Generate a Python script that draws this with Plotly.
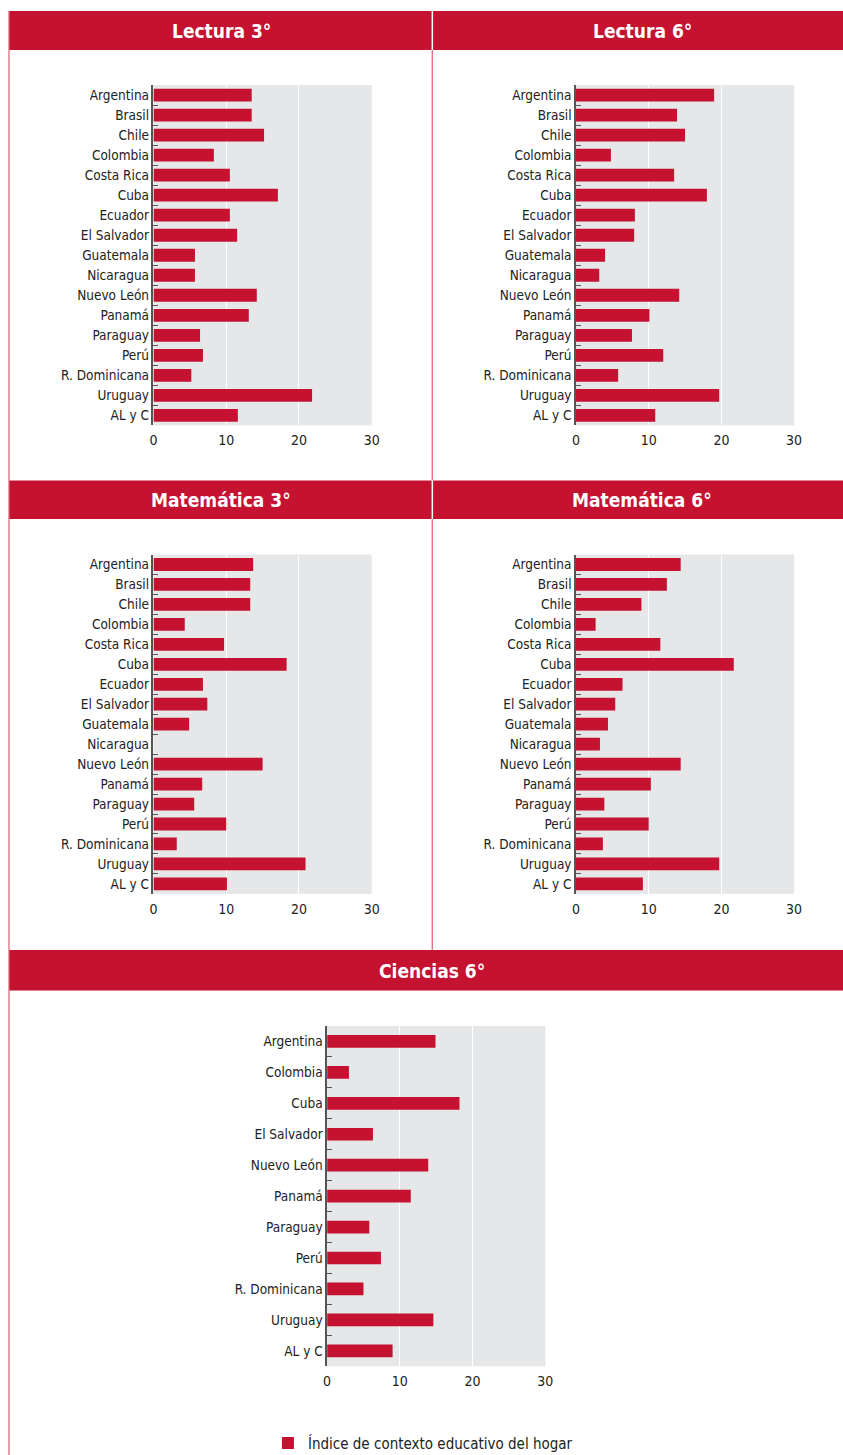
import plotly.graph_objects as go

# target picture size (reference pixel space)
W, H = 843, 1455
# figure size used to compensate the slight shrink seen in the photographed page
FW, FH = 851, 1460
SX, OX, SY = 0.988, 3.5, 0.997

paises = ["Argentina", "Brasil", "Chile", "Colombia", "Costa Rica", "Cuba", "Ecuador",
          "El Salvador", "Guatemala", "Nicaragua", "Nuevo León", "Panamá", "Paraguay",
          "Perú", "R. Dominicana", "Uruguay", "AL y C"]
lectura3 = [13.5, 13.5, 15.2, 8.3, 10.5, 17.1, 10.5, 11.5, 5.7, 5.7, 14.2, 13.1, 6.4, 6.8, 5.2, 21.8, 11.6]
lectura6 = [19.0, 13.9, 15.0, 4.8, 13.5, 18.0, 8.1, 8.0, 4.0, 3.2, 14.2, 10.1, 7.7, 12.0, 5.8, 19.7, 10.9]
matematica3 = [13.7, 13.3, 13.3, 4.3, 9.7, 18.3, 6.8, 7.4, 4.9, None, 15.0, 6.7, 5.6, 10.0, 3.2, 20.9, 10.1]
matematica6 = [14.4, 12.5, 9.0, 2.7, 11.6, 21.7, 6.4, 5.4, 4.4, 3.3, 14.4, 10.3, 3.9, 10.0, 3.7, 19.7, 9.2]

paises_ciencias = ["Argentina", "Colombia", "Cuba", "El Salvador", "Nuevo León", "Panamá",
                   "Paraguay", "Perú", "R. Dominicana", "Uruguay", "AL y C"]
ciencias6 = [14.9, 3.0, 18.2, 6.3, 13.9, 11.5, 5.8, 7.4, 5.0, 14.6, 9.0]

titulos = ["Lectura 3°", "Lectura 6°", "Matemática 3°", "Matemática 6°", "Ciencias 6°"]
x_ticks = [0, 10, 20, 30]
serie = "Índice de contexto educativo del hogar"

RED = "#c41230"
LINE = "#e06a7e"
FONT = "Liberation Sans Narrow, DejaVu Sans Condensed, Arial Narrow, sans-serif"


def px(x):
    return ((x - OX) / SX) / FW


def py(y):
    return 1 - (y / SY) / FH


# panel geometry in reference pixels: (x0, x1, y_top, y_bottom)
panels = [
    (153.3, 372.0, 85, 425),
    (576.7, 795.3, 85, 425),
    (153.3, 372.0, 554, 893),
    (576.7, 795.3, 554, 893),
    (327.3, 546.0, 1025, 1365),
]
datasets = [
    (paises, lectura3, 0.64),
    (paises, lectura6, 0.64),
    (paises, matematica3, 0.64),
    (paises, matematica6, 0.64),
    (paises_ciencias, ciencias6, 0.41),
]

fig = go.Figure()
for i, ((cats, vals, bw), (x0, x1, yt, yb)) in enumerate(zip(datasets, panels)):
    n = i + 1
    xa = "x" if n == 1 else f"x{n}"
    ya = "y" if n == 1 else f"y{n}"
    fig.add_trace(go.Bar(
        x=vals, y=cats, orientation="h", xaxis=xa, yaxis=ya,
        marker=dict(color=RED, line=dict(width=0)), width=bw,
        name=serie, showlegend=(n == 5), legendgroup="s",
        hovertemplate="%{y}: %{x}<extra></extra>",
    ))
    xkey = "xaxis" if n == 1 else f"xaxis{n}"
    ykey = "yaxis" if n == 1 else f"yaxis{n}"
    fig.update_layout(**{
        xkey: dict(domain=[px(x0), px(x1)], range=[0, 30], anchor=ya,
                   tickvals=x_ticks, showgrid=True, gridcolor="white", gridwidth=1,
                   zeroline=False, showline=False, ticks="", ticklabelstandoff=5,
                   tickfont=dict(family=FONT, size=14, color="#222"), fixedrange=True),
        ykey: dict(domain=[py(yb), py(yt)], anchor=xa, autorange="reversed",
                   type="category", showline=True, linecolor="#555", linewidth=1.5,
                   ticks="inside", tickson="boundaries", ticklen=5, tickcolor="#555",
                   tickwidth=1.2, showgrid=False, zeroline=False,
                   tickfont=dict(family=FONT, size=13.5, color="#222"), fixedrange=True),
    })

shapes = []
# header bands
headers = [
    (8.5, 432.0, 11, 50),
    (433.5, 860, 11, 50),
    (8.5, 432.0, 480, 518.5),
    (433.5, 860, 480, 518.5),
    (8.5, 860, 949, 989.5),
]
for (x0, x1, y0, y1) in headers:
    shapes.append(dict(type="rect", xref="paper", yref="paper",
                       x0=px(x0), x1=min(px(x1), 1), y0=py(y1), y1=py(y0),
                       fillcolor=RED, line=dict(width=0), layer="above"))
# border lines
shapes.append(dict(type="line", xref="paper", yref="paper",
                   x0=px(8.5), x1=px(8.5), y0=0, y1=py(11),
                   line=dict(color=LINE, width=1.3)))
for (ya, yb) in [(50, 480), (518.5, 949)]:
    shapes.append(dict(type="line", xref="paper", yref="paper",
                       x0=px(432.7), x1=px(432.7), y0=py(yb), y1=py(ya),
                       line=dict(color=LINE, width=1.3)))

annotations = []
title_pos = [(221, 31), (643, 31), (221, 500), (643, 500), (432, 970)]
for t, (x, y) in zip(titulos, title_pos):
    annotations.append(dict(text=f"<b>{t}</b>", x=px(x), y=py(y), xref="paper", yref="paper",
                            xanchor="center", yanchor="middle", showarrow=False,
                            font=dict(family=FONT, size=19, color="white")))

fig.update_layout(
    width=FW, height=FH,
    margin=dict(l=0, r=0, t=0, b=0),
    paper_bgcolor="white", plot_bgcolor="#e6e7e8",
    shapes=shapes, annotations=annotations,
    bargap=0.36,
    showlegend=True,
    legend=dict(x=px(268), y=py(1442), xanchor="left", yanchor="middle",
                orientation="h", bgcolor="rgba(0,0,0,0)",
                font=dict(family=FONT, size=15, color="#222")),
    font=dict(family=FONT),
)

fig.write_html(
    "out.html",
    config={"displayModeBar": False, "responsive": False},
    post_script=("document.documentElement.style.overflow='hidden';"
                 "document.documentElement.style.margin='0';"
                 "document.body.style.margin='0';"
                 "document.body.style.overflow='hidden';"
                 "var gd=document.getElementById('{plot_id}');"
                 "gd.style.position='fixed';gd.style.left='0px';gd.style.top='0px';"),
)
